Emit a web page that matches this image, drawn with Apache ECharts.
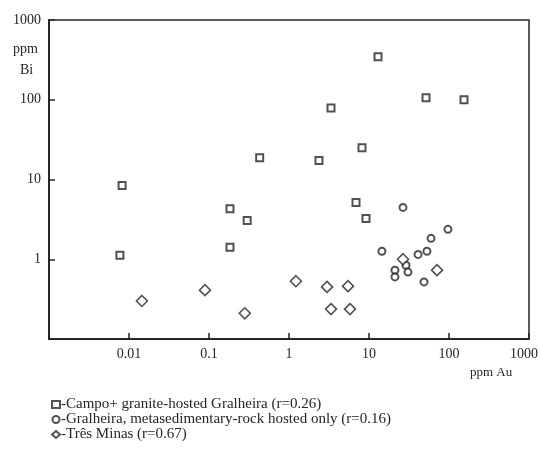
<!DOCTYPE html>
<html>
<head>
<meta charset="utf-8">
<script src="https://cdn.jsdelivr.net/npm/echarts@6/dist/echarts.min.js"></script>
<style>html,body{margin:0;padding:0;background:#fff}#c{width:540px;height:451px}</style>
</head>
<body>
<div id="c"></div>
<script>
// Campo + granite-hosted Gralheira: [ppm Au, ppm Bi]
var campoGranite = [[0.0082,8.4],[0.0077,1.12],[0.183,4.3],[0.30,3.07],[0.183,1.41],[0.43,18.8],
  [2.37,17.3],[3.35,79],[8.17,25],[6.88,5.16],[9.17,3.25],[12.96,345],[51.6,106],[154,100]];
// Gralheira, metasedimentary-rock hosted only
var gralheiraMeta = [[26.6,4.47],[97,2.37],[59.6,1.83],[53,1.26],[41,1.15],[14.5,1.26],
  [29,0.84],[30.7,0.69],[21.1,0.73],[21.1,0.60],[48.7,0.52]];
// Três Minas
var tresMinas = [[0.0145,0.30],[0.089,0.41],[0.28,0.21],[1.22,0.53],[2.99,0.45],[5.46,0.46],
  [3.35,0.237],[5.79,0.237],[26.6,1.0],[70.8,0.73]];
var seriesNames = ['-Campo+ granite-hosted Gralheira (r=0.26)',
  '-Gralheira, metasedimentary-rock hosted only (r=0.16)',
  '-Três Minas (r=0.67)'];
var xTickLabels = ['0.01','0.1','1','10','100','1000'];
var yTickLabels = ['1','10','100','1000'];
var xTitle = 'ppm Au';
var yTitle = ['ppm', 'Bi'];

var ink = '#262626';
var font = 'Liberation Serif';
function fmt(v, list){
  var s = String(Number(v.toPrecision(3)));
  return list.indexOf(s) >= 0 ? s : '';
}
var chart = echarts.init(document.getElementById('c'));
chart.setOption({
  animation: false,
  grid: {left: 49, top: 20, right: 11, bottom: 112, show: true, borderColor: ink, borderWidth: 1.5,
    containLabel: false, outerBoundsMode: 'none'},
  xAxis: {type: 'log', logBase: 10, min: 0.001, max: 1000, interval: 1,
    axisLine: {lineStyle: {color: ink, width: 2}},
    axisTick: {inside: true, length: 6, lineStyle: {color: ink, width: 1.5}},
    splitLine: {show: false},
    axisLabel: {color: ink, fontFamily: font, fontSize: 14, margin: 8, hideOverlap: false,
      formatter: function(v){
        var s = fmt(v, xTickLabels);
        return s === xTickLabels[xTickLabels.length - 1] ? '{m|' + s + '}' : s;
      },
      rich: {m: {color: ink, fontFamily: font, fontSize: 14, padding: [0, 10, 0, 0]}}}
  },
  yAxis: {type: 'log', logBase: 10, min: 0.1, max: 1000, interval: 1,
    axisLine: {lineStyle: {color: ink, width: 2}},
    axisTick: {inside: true, length: 6, lineStyle: {color: ink, width: 1.5}},
    splitLine: {show: false},
    axisLabel: {color: ink, fontFamily: font, fontSize: 14, margin: 8,
      formatter: function(v){ return fmt(v, yTickLabels); }}
  },
  legend: {orient: 'vertical', left: 46, top: 392, height: 58, itemGap: 0, itemWidth: 8, itemHeight: 7,
    textStyle: {color: ink, fontFamily: font, fontSize: 15, lineHeight: 15, padding: [0,0,0,-4]},
    data: [{name: seriesNames[0], icon: 'rect'}, {name: seriesNames[1], icon: 'circle'}, {name: seriesNames[2], icon: 'diamond'}]
  },
  graphic: [
    {type: 'text', left: 13, top: 42, style: {text: yTitle[0], font: '14px "Liberation Serif"', fill: ink}},
    {type: 'text', left: 20, top: 63, style: {text: yTitle[1], font: '14px "Liberation Serif"', fill: ink}},
    {type: 'text', left: 470, top: 366, style: {text: xTitle, font: '13px "Liberation Serif"', fill: ink}}
  ],
  series: [
    {name: seriesNames[0], type: 'scatter', data: campoGranite, symbol: 'rect', symbolSize: 7,
      itemStyle: {color: '#fff', borderColor: ink, borderWidth: 2}},
    {name: seriesNames[1], type: 'scatter', data: gralheiraMeta, symbol: 'circle', symbolSize: 7,
      itemStyle: {color: '#fff', borderColor: ink, borderWidth: 2}},
    {name: seriesNames[2], type: 'scatter', data: tresMinas, symbol: 'diamond', symbolSize: 11,
      itemStyle: {color: '#fff', borderColor: ink, borderWidth: 1.6}}
  ]
});
</script>
</body>
</html>
